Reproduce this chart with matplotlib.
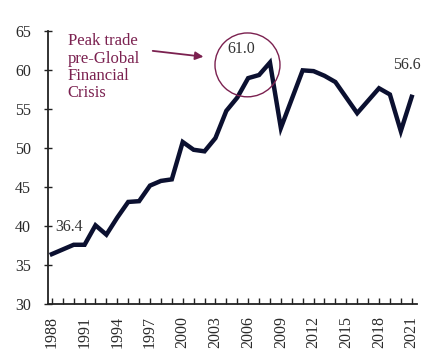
import matplotlib
matplotlib.use("Agg")
import matplotlib.pyplot as plt
from matplotlib.patches import Ellipse

years = list(range(1988, 2022))
values = [36.4, 37.0, 37.6, 37.6, 40.1, 38.9, 41.1, 43.1, 43.2, 45.2, 45.8, 46.0,
          50.8, 49.8, 49.6, 51.3, 54.8, 56.5, 59.0, 59.4, 61.0, 52.6, 56.3, 60.0,
          59.9, 59.3, 58.5, 56.5, 54.5, 56.1, 57.7, 56.9, 52.2, 56.6]
ytick_vals = [30, 35, 40, 45, 50, 55, 60, 65]
xtick_labels = [1988, 1991, 1994, 1997, 2000, 2003, 2006, 2009, 2012, 2015, 2018, 2021]
annotation_text = "Peak trade\npre-Global\nFinancial\nCrisis"

plt.rcParams['font.family'] = ['Liberation Serif', 'DejaVu Serif']

fig = plt.figure(figsize=(4.47, 3.61), dpi=100)
ax = fig.add_axes([0.107, 0.158, 0.826, 0.755])

ax.plot(years, values, color='#0b1030', lw=3.2, solid_joinstyle='miter', zorder=3)

ax.set_xlim(1987.63, 2021.49)
ax.set_ylim(30, 65)
ax.set_yticks(ytick_vals)
ax.set_yticklabels([str(v) for v in ytick_vals], fontsize=11.5, color='#2a2a2a')
ax.set_xticks(years)
ax.set_xticklabels([str(y) if y in xtick_labels else '' for y in years],
                   rotation=90, fontsize=11.5, color='#2a2a2a')
ax.tick_params(axis='x', direction='in', length=4, width=1, pad=9, color='#222222')
ax.tick_params(axis='y', direction='inout', length=6, width=1, pad=9, color='#222222')
for s in ['top', 'right']:
    ax.spines[s].set_visible(False)
for s in ['left', 'bottom']:
    ax.spines[s].set_linewidth(1.3)
    ax.spines[s].set_color('#222222')

maroon = '#7b2150'
# value labels
ax.text(years[0] + 0.3, 39.9, f"{values[0]:.1f}", fontsize=11.5, color='#333333',
        ha='left', va='center')
peak_i = values.index(max(values))
ax.text(2005.4, 62.7, f"{values[peak_i]:.1f}", fontsize=11.5, color='#333333',
        ha='center', va='center')
ax.text(2020.6, 60.7, f"{values[-1]:.1f}", fontsize=11.5, color='#333333',
        ha='center', va='center')

# circle around peak
circ = Ellipse((2005.94, 60.7), width=5.96, height=8.2, fill=False,
               edgecolor=maroon, lw=1.0, zorder=4)
ax.add_patch(circ)

# annotation text and arrow
ax.text(1989.45, 64.75, annotation_text, fontsize=12, color=maroon, ha='left', va='top',
        linespacing=1.1)
ax.annotate('', xy=(2001.9, 61.75), xytext=(1997.25, 62.5),
            arrowprops=dict(arrowstyle='-|>', color=maroon, lw=1.3, mutation_scale=12,
                            shrinkA=0, shrinkB=0))

fig.savefig('out.png', dpi=100)
